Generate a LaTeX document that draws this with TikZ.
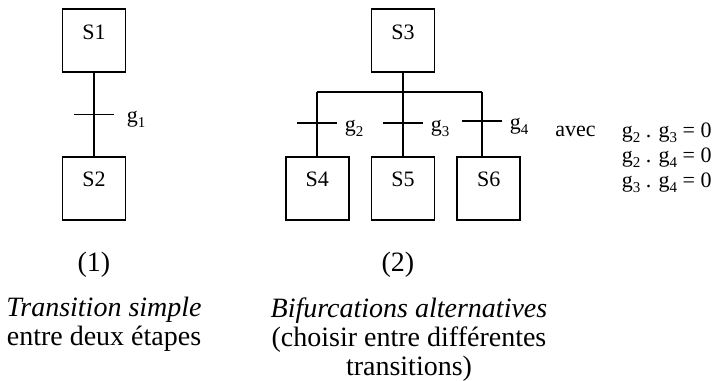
\documentclass[tikz,border=0pt]{standalone}
\usepackage{fontspec}
\setmainfont{Liberation Serif}
\usetikzlibrary{positioning}
\newcommand\ind[1]{\raisebox{-.5ex}{\fontsize{7.5}{8}\selectfont#1}}

\begin{document}
\begin{tikzpicture}[x=0.5pt,y=-0.5pt,font=\fontsize{11}{12.5}\selectfont,node distance=41.5pt and 10.5pt,
etape/.style={draw,line width=.9pt,inner sep=0pt,minimum width=31.5pt,text height=15pt,text depth=16.5pt},
tr/.style={line width=.9pt},
g/.style={anchor=base west,inner sep=0pt,xshift=3.5pt,yshift=-4pt},
legende/.style={font=\fontsize{14}{14.5}\selectfont,align=center,inner sep=0pt}]
\useasboundingbox (0,0) rectangle (720,381);
% (1) transition simple
\node[etape](S1) at (94,40.5){S1};
\node[etape,below=of S1](S2){S2};
\draw[tr](S1)--coordinate[pos=.5](t1)(S2);
\draw[tr]([xshift=-10pt]t1)--([xshift=10pt]t1) node[g,xshift=2.5pt]{g\ind{1}};
% (2) bifurcations
\node[etape](S3) at (403,40.5){S3};
\node[etape,below=of S3](S5){S5};
\node[etape,left=of S5](S4){S4};
\node[etape,right=of S5](S6){S6};
\coordinate(b4) at (317,92);\coordinate(b6) at (482,92);
\draw[tr](S3.south)--(S3.south|-b4);
\draw[tr](b4)--(b6);
\draw[tr](b4)--(b4|-S4.north);
\draw[tr](S3.south|-b4)--(S5.north);
\draw[tr](b6)--(b6|-S6.north);
\foreach \x/\y/\i in {317/123/2,403/123/3,482/121/4}
  \draw[tr](\x-20,\y)--(\x+20,\y) node[g]{g\ind{\i}};
\node[anchor=base west,inner sep=0pt](avec) at (555,136){avec};
\node[anchor=north east,align=right,inner sep=0pt](eq) at (712,122){%
g\ind{2} . g\ind{3} = 0\\
g\ind{2} . g\ind{4} = 0\\
g\ind{3} . g\ind{4} = 0};
% legends
\node[legende](n1) at (94,265){(1)};
\node[legende](n2) at (398,265){(2)};
\node[legende,anchor=north](c1) at (104,297){\textit{Transition simple}\\entre deux étapes};
\node[legende,anchor=north](c2) at (409,297){\textit{Bifurcations alternatives}\\(choisir entre différentes\\transitions)};
\end{tikzpicture}
\end{document}
